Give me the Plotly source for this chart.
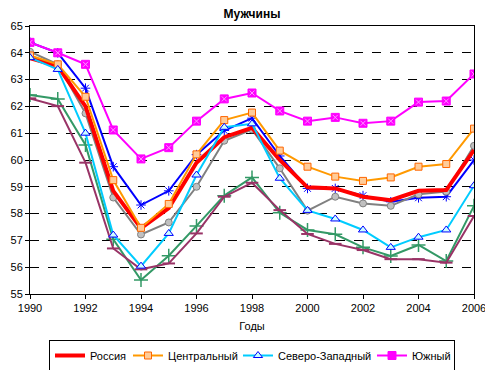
import plotly.graph_objects as go

years = list(range(1990, 2007))

russia = [63.8, 63.5, 62.0, 58.85, 57.45, 58.2, 59.9, 60.85, 61.2, 60.0, 58.98, 58.94, 58.63, 58.5, 58.85, 58.88, 60.37]
central = [63.9, 63.57, 62.36, 59.25, 57.47, 58.36, 60.21, 61.49, 61.77, 60.35, 59.75, 59.38, 59.22, 59.35, 59.75, 59.85, 61.17]
northwest = [63.82, 63.38, 61.0, 57.2, 56.04, 57.26, 59.44, 61.22, 61.35, 59.32, 58.12, 57.8, 57.39, 56.74, 57.12, 57.39, 59.04]
south = [64.39, 64.0, 63.57, 61.12, 60.04, 60.46, 61.45, 62.28, 62.5, 61.83, 61.45, 61.59, 61.37, 61.45, 62.16, 62.2, 63.21]
volga = [64.39, 64.0, 62.68, 59.75, 58.32, 58.85, 60.2, 61.1, 61.56, 60.15, 58.94, 58.94, 58.67, 58.44, 58.59, 58.63, 60.0]
ural = [64.04, 63.57, 61.74, 58.6, 57.22, 57.67, 59.0, 60.72, 61.14, 59.69, 58.11, 58.63, 58.38, 58.29, 58.72, 58.82, 60.53]
siberia = [62.43, 62.28, 60.56, 57.04, 55.52, 56.43, 57.54, 58.67, 59.35, 58.03, 57.39, 57.23, 56.74, 56.42, 56.83, 56.23, 58.29]
fareast = [62.3, 62.01, 59.9, 56.7, 55.92, 56.14, 57.26, 58.63, 59.15, 58.13, 57.24, 56.87, 56.64, 56.3, 56.3, 56.17, 57.91]

x_ticks = list(range(1990, 2007, 2))
y_ticks = list(range(55, 66))

fig = go.Figure()

fig.add_trace(go.Scatter(x=years, y=volga, mode="lines+markers", name="Приволжский", showlegend=False,
                         line=dict(color="#0000FF", width=2),
                         marker=dict(symbol="asterisk-open", size=8, line=dict(color="#0000FF", width=1))))
fig.add_trace(go.Scatter(x=years, y=ural, mode="lines+markers", name="Уральский", showlegend=False,
                         line=dict(color="#808080", width=2),
                         marker=dict(symbol="circle", size=7, color="#C0C0C0", line=dict(color="#808080", width=1))))
fig.add_trace(go.Scatter(x=years, y=siberia, mode="lines+markers", name="Сибирский", showlegend=False,
                         line=dict(color="#339966", width=2),
                         marker=dict(symbol="cross-thin-open", size=10, line=dict(color="#008000", width=1.5))))
fig.add_trace(go.Scatter(x=years, y=fareast, mode="lines+markers", name="Дальневосточный", showlegend=False,
                         line=dict(color="#993366", width=2),
                         marker=dict(symbol="line-ew-open", size=9, line=dict(color="#993366", width=2))))

fig.add_trace(go.Scatter(x=years, y=russia, mode="lines", name="Россия", legendwidth=33,
                         line=dict(color="#FF0000", width=4)))
fig.add_trace(go.Scatter(x=years, y=central, mode="lines+markers", name="Центральный", legendwidth=65,
                         line=dict(color="#FF9900", width=2),
                         marker=dict(symbol="square", size=7, color="#FFCC99", line=dict(color="#FF6600", width=1))))
fig.add_trace(go.Scatter(x=years, y=northwest, mode="lines+markers", name="Северо-Западный", legendwidth=89,
                         line=dict(color="#00CCFF", width=2),
                         marker=dict(symbol="triangle-up", size=8, color="#CCFFFF", line=dict(color="#0000FF", width=1))))
fig.add_trace(go.Scatter(x=years, y=south, mode="lines+markers", name="Южный", legendwidth=37,
                         line=dict(color="#FF00FF", width=2),
                         marker=dict(symbol="square", size=8, color="#FF00FF", line=dict(color="#FF00FF", width=1))))
fig.add_trace(go.Scatter(x=years, y=south, mode="markers", name="Южный", showlegend=False, hoverinfo="skip",
                         marker=dict(symbol="x-thin-open", size=5, line=dict(color="#FFCCFF", width=1))))

axis_font = dict(family="Liberation Sans, Arial, sans-serif", size=11, color="black")

# page body has an 8px margin: the figure is sized/positioned to compensate
W, H = 485, 362

fig.update_layout(
    width=W, height=H,
    margin=dict(l=22, r=19, t=18, b=76, autoexpand=False),
    paper_bgcolor="white", plot_bgcolor="white",
    font=axis_font,
    title=dict(text="<b>Мужчины</b>", x=0.5, xanchor="center", xref="paper",
               y=1 - 6 / H, yanchor="middle", yref="container",
               font=dict(family="Liberation Sans, Arial, sans-serif", size=12, color="black")),
    xaxis=dict(range=[1990, 2006], tickvals=x_ticks, ticktext=[str(v) for v in x_ticks],
               showgrid=False, zeroline=False, showline=True, linecolor="black", linewidth=1, mirror=True,
               ticks="outside", ticklen=4, tickcolor="black", automargin=False,
               title=dict(text="Годы", standoff=9, font=axis_font), tickfont=axis_font),
    yaxis=dict(range=[55, 65], tickvals=y_ticks, showgrid=True, gridcolor="black", griddash="dash", gridwidth=1,
               zeroline=False, showline=True, linecolor="black", linewidth=1, mirror=True, automargin=False,
               ticks="outside", ticklen=4, tickcolor="black", tickfont=axis_font),
    legend=dict(orientation="h", x=0.5, xanchor="center", xref="paper",
                yref="container", y=1 - 332 / H, yanchor="top",
                bordercolor="black", borderwidth=1, bgcolor="white", font=axis_font,
                itemwidth=30, tracegroupgap=0),
    showlegend=True,
)

fig.write_html("out.html")
